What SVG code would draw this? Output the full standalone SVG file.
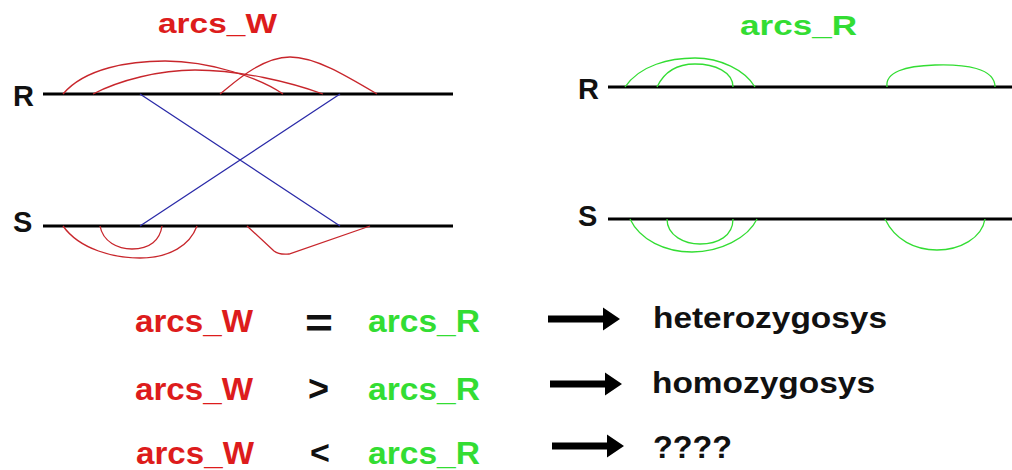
<svg xmlns="http://www.w3.org/2000/svg" width="1012" height="470" viewBox="0 0 1012 470">
<style>
text{font-family:"Liberation Sans",Arial,sans-serif;font-weight:bold}
.red{fill:#dd1c1c}
.grn{fill:#33dd33}
.blk{fill:#111}
.strand{stroke:#000;stroke-width:3;fill:none}
.ra{stroke:#c8262c;stroke-width:1.3;fill:none}
.ga{stroke:#33dd33;stroke-width:1.3;fill:none}
.bl{stroke:#2a2aa8;stroke-width:1.3;fill:none}
.arrow{fill:#000}
</style>
<defs>
<path id="arr" d="M0,-3.5 H55 V-11.5 L72,0 L55,11.5 V3.5 H0 Z"/>
</defs>
<rect width="1012" height="470" fill="#fff"/>
<g id="title-w"><text x="158" y="33" font-size="28" class="red" textLength="119" lengthAdjust="spacingAndGlyphs">arcs_W</text></g>
<g id="title-r"><text x="740" y="35" font-size="28" class="grn" textLength="117" lengthAdjust="spacingAndGlyphs">arcs_R</text></g>
<g id="left-R"><text x="13" y="106" font-size="29" class="blk">R</text><line class="strand" x1="43" y1="94" x2="453" y2="94"/></g>
<g id="left-S"><text x="13" y="232" font-size="29" class="blk">S</text><line class="strand" x1="43" y1="226" x2="453" y2="226"/></g>
<g id="right-R"><text x="578" y="99" font-size="29" class="blk">R</text><line class="strand" x1="608" y1="87" x2="1012" y2="87"/></g>
<g id="right-S"><text x="578" y="226" font-size="29" class="blk">S</text><line class="strand" x1="608" y1="219" x2="1012" y2="219"/></g>
<g id="connectors">
<path class="ra" d="M63,94 C85,68 130,61 165,61 C210,61 260,78 283,94"/>
<path class="ra" d="M93,94 C120,80 160,70 195,70 C240,70 290,82 323,94"/>
<path class="ra" d="M220,94 C235,82 262,57 290,57 C315,57 345,75 377,94"/>
<path class="ra" d="M63,226 C80,250 115,258 140,258 C170,258 190,245 197,226"/>
<path class="ra" d="M100,226 C103,242 118,249 132,249 C150,249 160,240 162,226"/>
<path class="ra" d="M247,226 L274,251 Q279,255 289,254 L370,226"/>
<path class="bl" d="M140,94 L340,226 M340,94 L140,226"/>
<path class="ga" d="M625,87 C640,65 670,58 695,58 C720,58 745,70 755,87"/>
<path class="ga" d="M657,87 C665,70 680,64 695,64 C715,64 733,72 733,87"/>
<path class="ga" d="M887,87 C885,72 905,66 935,65 C965,64 995,68 995,87"/>
<path class="ga" d="M630,219 C640,240 665,252 692,252 C720,252 748,238 757,219"/>
<path class="ga" d="M667,219 C667,236 685,244 700,244 C718,244 733,236 733,219"/>
<path class="ga" d="M885,219 C895,240 915,250 937,250 C960,250 982,238 985,219"/>
<use href="#arr" class="arrow" x="548" y="319"/>
<use href="#arr" class="arrow" x="550" y="384"/>
<use href="#arr" class="arrow" x="552" y="446"/>
</g>
<g id="row1">
<text x="135" y="332" font-size="32" class="red" textLength="118" lengthAdjust="spacingAndGlyphs">arcs_W</text>
<text x="305" y="337" font-size="40" class="blk" textLength="28" lengthAdjust="spacingAndGlyphs">=</text>
<text x="368" y="332" font-size="32" class="grn" textLength="112" lengthAdjust="spacingAndGlyphs">arcs_R</text>
<text x="653" y="328" font-size="30" class="blk" textLength="234" lengthAdjust="spacingAndGlyphs">heterozygosys</text>
</g>
<g id="row2">
<text x="135" y="400" font-size="32" class="red" textLength="118" lengthAdjust="spacingAndGlyphs">arcs_W</text>
<text x="308" y="401" font-size="36" class="blk">&gt;</text>
<text x="368" y="400" font-size="32" class="grn" textLength="112" lengthAdjust="spacingAndGlyphs">arcs_R</text>
<text x="652" y="393" font-size="30" class="blk" textLength="223" lengthAdjust="spacingAndGlyphs">homozygosys</text>
</g>
<g id="row3">
<text x="136" y="464" font-size="32" class="red" textLength="118" lengthAdjust="spacingAndGlyphs">arcs_W</text>
<text x="310" y="464" font-size="34" class="blk">&lt;</text>
<text x="368" y="464" font-size="32" class="grn" textLength="112" lengthAdjust="spacingAndGlyphs">arcs_R</text>
<text x="653" y="458" font-size="32" class="blk" textLength="79" lengthAdjust="spacingAndGlyphs">????</text>
</g>
</svg>
